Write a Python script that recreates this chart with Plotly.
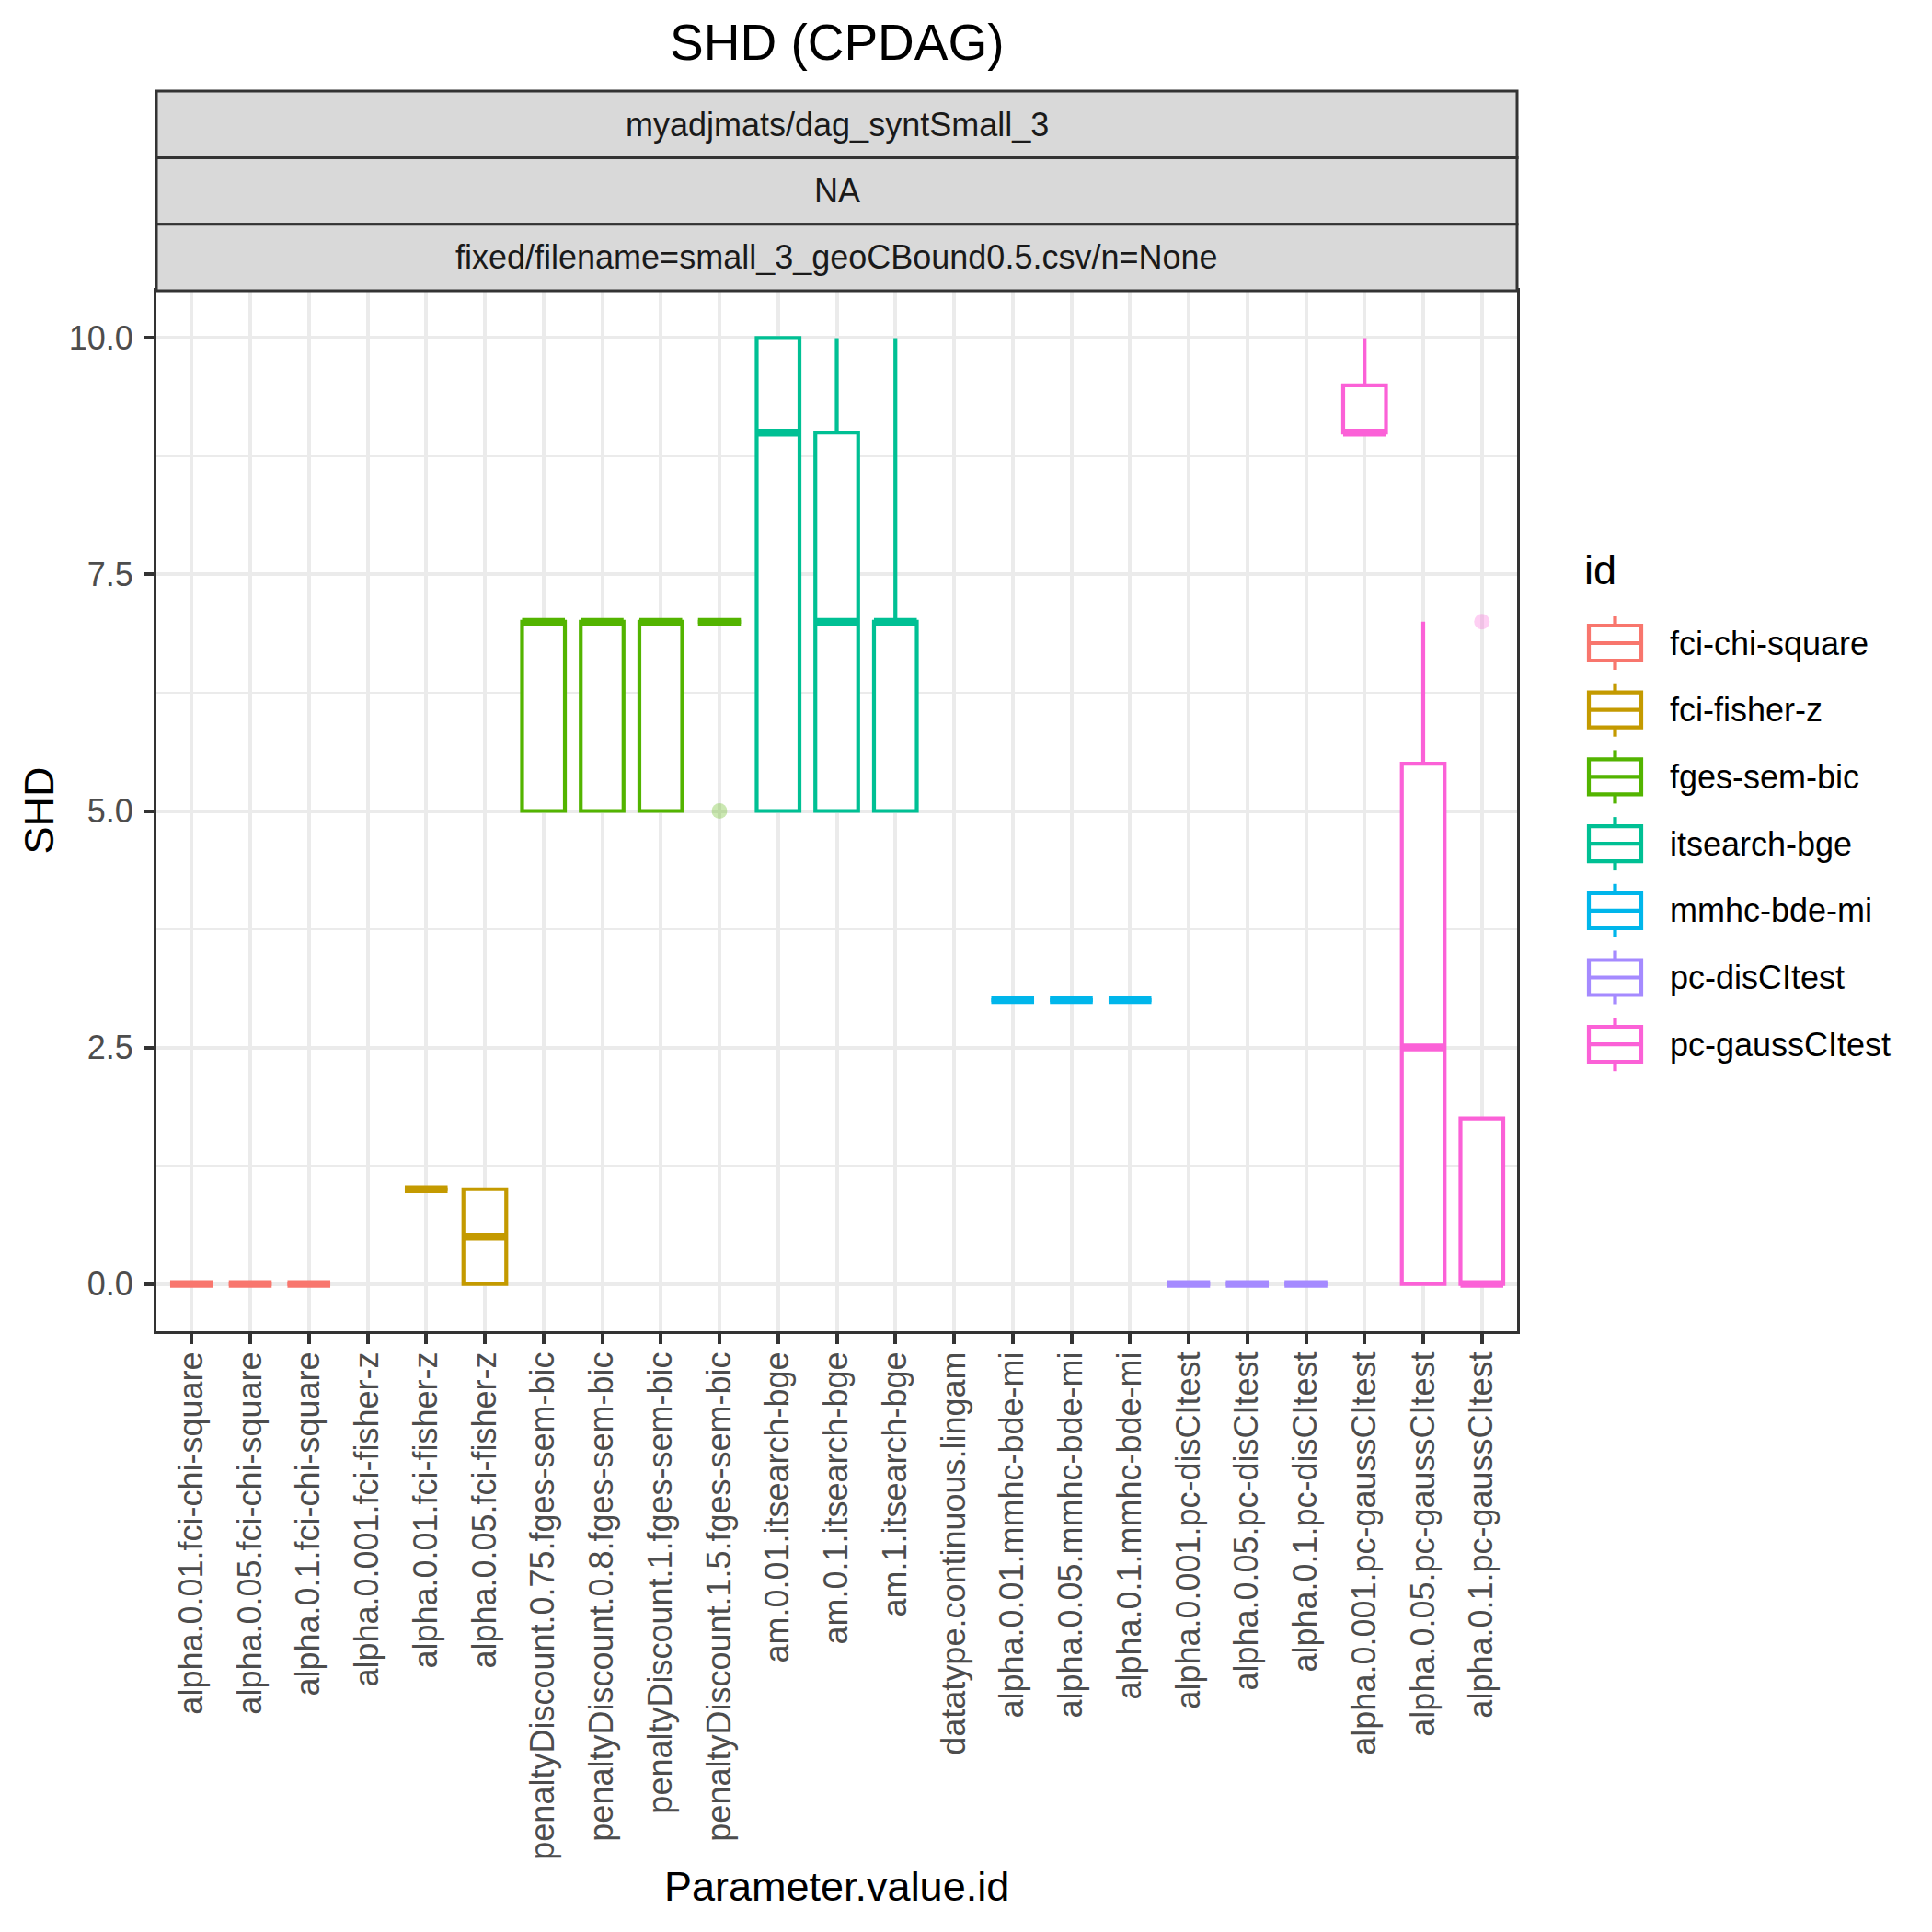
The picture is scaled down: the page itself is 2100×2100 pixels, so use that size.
import plotly.graph_objects as go

# ---------------- data ----------------
categories = [
    "alpha.0.01.fci-chi-square", "alpha.0.05.fci-chi-square", "alpha.0.1.fci-chi-square",
    "alpha.0.001.fci-fisher-z", "alpha.0.01.fci-fisher-z", "alpha.0.05.fci-fisher-z",
    "penaltyDiscount.0.75.fges-sem-bic", "penaltyDiscount.0.8.fges-sem-bic",
    "penaltyDiscount.1.fges-sem-bic", "penaltyDiscount.1.5.fges-sem-bic",
    "am.0.01.itsearch-bge", "am.0.1.itsearch-bge", "am.1.itsearch-bge",
    "datatype.continuous.lingam",
    "alpha.0.01.mmhc-bde-mi", "alpha.0.05.mmhc-bde-mi", "alpha.0.1.mmhc-bde-mi",
    "alpha.0.001.pc-disCItest", "alpha.0.05.pc-disCItest", "alpha.0.1.pc-disCItest",
    "alpha.0.001.pc-gaussCItest", "alpha.0.05.pc-gaussCItest", "alpha.0.1.pc-gaussCItest",
]
category_ids = [
    "fci-chi-square", "fci-chi-square", "fci-chi-square",
    "fci-fisher-z", "fci-fisher-z", "fci-fisher-z",
    "fges-sem-bic", "fges-sem-bic", "fges-sem-bic", "fges-sem-bic",
    "itsearch-bge", "itsearch-bge", "itsearch-bge",
    "lingam",
    "mmhc-bde-mi", "mmhc-bde-mi", "mmhc-bde-mi",
    "pc-disCItest", "pc-disCItest", "pc-disCItest",
    "pc-gaussCItest", "pc-gaussCItest", "pc-gaussCItest",
]
q1_values     = [0, 0, 0, None, 1, 0,   5, 5, 5, 7, 5, 5, 5, None, 3, 3, 3, 0, 0, 0, 9,   0,   0]
median_values = [0, 0, 0, None, 1, 0.5, 7, 7, 7, 7, 9, 7, 7, None, 3, 3, 3, 0, 0, 0, 9,   2.5, 0]
q3_values     = [0, 0, 0, None, 1, 1,   7, 7, 7, 7, 10, 9, 7, None, 3, 3, 3, 0, 0, 0, 9.5, 5.5, 1.75]
lower_values  = [0, 0, 0, None, 1, 0,   5, 5, 5, 7, 5, 5, 5, None, 3, 3, 3, 0, 0, 0, 9,   0,   0]
upper_values  = [0, 0, 0, None, 1, 1,   7, 7, 7, 7, 10, 10, 10, None, 3, 3, 3, 0, 0, 0, 10, 7,   1.75]

outlier_categories = ["penaltyDiscount.1.5.fges-sem-bic", "alpha.0.1.pc-gaussCItest"]
outlier_values = [5, 7]

id_levels = ["fci-chi-square", "fci-fisher-z", "fges-sem-bic", "itsearch-bge",
             "mmhc-bde-mi", "pc-disCItest", "pc-gaussCItest"]
id_colors = ["#F8766D", "#C49A00", "#53B400", "#00C094", "#00B6EB", "#A58AFF", "#FB61D7"]

strip_labels = ["myadjmats/dag_syntSmall_3", "NA",
                "fixed/filename=small_3_geoCBound0.5.csv/n=None"]
y_ticks = [0, 2.5, 5, 7.5, 10]
y_minor = [1.25, 3.75, 6.25, 8.75]

# ---------------- layout constants (page px) ----------------
PAGE_PAD = 8                      # default body margin of the html page
W = H = 2100 - 2 * PAGE_PAD
L, R, T, B = 170, 1649, 316, 1447  # panel edges on the page
STRIP_H = 72.3
PW, PH = R - L, B - T
FONT = "Liberation Sans"
BOX_W = 0.73
LW = 4.2
TXT_S, TXT_M, TXT_L = 36, 45, 55


def px_x(px):
    return (px - L) / PW


def px_y(py):
    return (B - py) / PH


positions = list(range(1, len(categories) + 1))
pos_of = dict(zip(categories, positions))

fig = go.Figure()

for idn, col in zip(id_levels, id_colors):
    idx = [i for i, c in enumerate(category_ids) if c == idn and q1_values[i] is not None]
    fig.add_trace(go.Box(
        name=idn, legendgroup=idn, showlegend=False,
        x=[positions[i] for i in idx],
        q1=[q1_values[i] for i in idx],
        median=[median_values[i] for i in idx],
        q3=[q3_values[i] for i in idx],
        lowerfence=[lower_values[i] for i in idx],
        upperfence=[upper_values[i] for i in idx],
        width=BOX_W, whiskerwidth=0, boxpoints=False,
        line=dict(color=col, width=LW), fillcolor="white",
        hoverinfo="skip",
    ))
    # thicker median line (ggplot fatten = 2)
    mx, my = [], []
    for i in idx:
        mx += [positions[i] - BOX_W / 2, positions[i] + BOX_W / 2, None]
        my += [median_values[i], median_values[i], None]
    fig.add_trace(go.Scatter(x=mx, y=my, mode="lines", line=dict(color=col, width=LW * 2),
                             showlegend=False, legendgroup=idn, hoverinfo="skip"))

# outliers
for cat, val in zip(outlier_categories, outlier_values):
    col = id_colors[id_levels.index(category_ids[categories.index(cat)])]
    fig.add_trace(go.Scatter(x=[pos_of[cat]], y=[val], mode="markers",
                             marker=dict(color=col, size=17, opacity=0.3, line=dict(width=0)),
                             showlegend=False, hoverinfo="skip"))

shapes = []
annotations = []

# facet strips
for j, lab in enumerate(strip_labels):
    top = T - STRIP_H * (3 - j)
    bot = top + STRIP_H
    shapes.append(dict(type="rect", xref="paper", yref="paper",
                       x0=0, x1=1, y0=px_y(bot), y1=px_y(top),
                       fillcolor="#D9D9D9", line=dict(color="#333333", width=3), layer="above"))
    annotations.append(dict(text=lab, xref="paper", yref="paper", x=0.5, y=px_y((top + bot) / 2),
                            showarrow=False, xanchor="center", yanchor="middle",
                            font=dict(family=FONT, size=TXT_S, color="#1A1A1A")))

# titles
annotations.append(dict(text="SHD (CPDAG)", xref="paper", yref="paper", x=0.5, y=px_y(46),
                        showarrow=False, xanchor="center", yanchor="middle",
                        font=dict(family=FONT, size=TXT_L, color="black")))
annotations.append(dict(text="SHD", xref="paper", yref="paper", x=px_x(42), y=0.5,
                        showarrow=False, xanchor="center", yanchor="middle", textangle=-90,
                        font=dict(family=FONT, size=TXT_M, color="black")))
annotations.append(dict(text="Parameter.value.id", xref="paper", yref="paper", x=0.5, y=px_y(2050),
                        showarrow=False, xanchor="center", yanchor="middle",
                        font=dict(family=FONT, size=TXT_M, color="black")))

# legend (ggplot style boxplot keys)
LEG_X0, LEG_X1 = 1727, 1784
LEG_Y0 = 699
LEG_DY = 72.7
annotations.append(dict(text="id", xref="paper", yref="paper", x=px_x(1720), y=px_y(619),
                        showarrow=False, xanchor="left", yanchor="middle",
                        font=dict(family=FONT, size=TXT_M, color="black")))
for k, (idn, col) in enumerate(zip(id_levels, id_colors)):
    cy = LEG_Y0 + k * LEG_DY
    cx = (LEG_X0 + LEG_X1) / 2
    shapes.append(dict(type="rect", xref="paper", yref="paper",
                       x0=px_x(LEG_X0), x1=px_x(LEG_X1), y0=px_y(cy + 19), y1=px_y(cy - 19),
                       fillcolor="white", line=dict(color=col, width=LW)))
    shapes.append(dict(type="line", xref="paper", yref="paper",
                       x0=px_x(LEG_X0), x1=px_x(LEG_X1), y0=px_y(cy), y1=px_y(cy),
                       line=dict(color=col, width=LW)))
    shapes.append(dict(type="line", xref="paper", yref="paper",
                       x0=px_x(cx), x1=px_x(cx), y0=px_y(cy - 19), y1=px_y(cy - 29),
                       line=dict(color=col, width=LW)))
    shapes.append(dict(type="line", xref="paper", yref="paper",
                       x0=px_x(cx), x1=px_x(cx), y0=px_y(cy + 19), y1=px_y(cy + 29),
                       line=dict(color=col, width=LW)))
    annotations.append(dict(text=idn, xref="paper", yref="paper", x=px_x(1813), y=px_y(cy),
                            showarrow=False, xanchor="left", yanchor="middle",
                            font=dict(family=FONT, size=TXT_S, color="black")))

fig.update_layout(
    width=W, height=H,
    margin=dict(l=L - PAGE_PAD, r=W - (R - PAGE_PAD), t=T - PAGE_PAD, b=H - (B - PAGE_PAD), pad=0),
    paper_bgcolor="white", plot_bgcolor="white",
    boxmode="overlay",
    showlegend=False,
    shapes=shapes, annotations=annotations,
    xaxis=dict(range=[0.4, len(categories) + 0.6], tickmode="array", tickvals=positions,
               ticktext=categories, tickangle=-90,
               tickfont=dict(family=FONT, size=TXT_S, color="#4D4D4D"),
               ticks="outside", ticklen=11, tickwidth=4, tickcolor="#333333",
               ticklabelstandoff=-6,
               showgrid=True, gridcolor="#EBEBEB", gridwidth=4,
               showline=True, linecolor="#333333", linewidth=3, mirror=True,
               zeroline=False),
    yaxis=dict(range=[-0.5, 10.5], tickmode="array", tickvals=y_ticks, tickformat=".1f",
               tickfont=dict(family=FONT, size=TXT_S, color="#4D4D4D"),
               ticks="outside", ticklen=11, tickwidth=4, tickcolor="#333333",
               ticklabelstandoff=4,
               showgrid=True, gridcolor="#EBEBEB", gridwidth=4,
               minor=dict(tickmode="array", tickvals=y_minor, showgrid=True,
                          gridcolor="#EBEBEB", gridwidth=2, ticks=""),
               showline=True, linecolor="#333333", linewidth=3, mirror=True,
               zeroline=False),
)

fig.write_html("out.html")
